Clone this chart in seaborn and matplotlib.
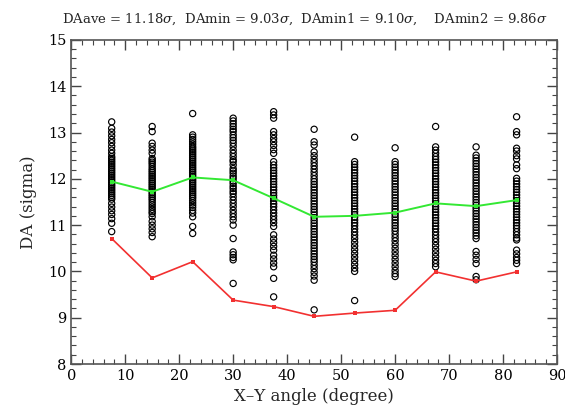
import numpy as np
import pandas as pd
import seaborn as sns
import matplotlib.pyplot as plt
from matplotlib.ticker import MultipleLocator

# X-Y angle bins (degree)
angles = [7.5, 15, 22.5, 30, 37.5, 45, 52.5, 60, 67.5, 75, 82.5]

# average and minimum DA per angle
da_ave = [11.94, 11.72, 12.03, 11.97, 11.58, 11.18, 11.20, 11.27, 11.47, 11.41, 11.54]
da_min = [10.71, 9.86, 10.21, 9.38, 9.24, 9.03, 9.10, 9.16, 9.99, 9.79, 9.99]

# individual DA values per angle
col7_5 = [13.23, 13.09, 13.01, 12.93, 12.85, 12.78, 12.70, 12.62, 12.55, 12.48, 12.44, 12.40,
          12.36, 12.32, 12.28, 12.24, 12.20, 12.16, 12.12, 12.08, 12.04, 12.00, 11.96, 11.92,
          11.88, 11.84, 11.80, 11.76, 11.72, 11.68, 11.64, 11.60, 11.56, 11.47, 11.39, 11.31,
          11.23, 11.14, 11.04, 10.86]
col15 = [13.13, 13.02, 12.77, 12.70, 12.62, 12.55, 12.44, 12.40, 12.36, 12.32, 12.27, 12.22,
         12.18, 12.14, 12.10, 12.06, 12.02, 11.98, 11.94, 11.90, 11.86, 11.82, 11.78, 11.74,
         11.70, 11.66, 11.62, 11.58, 11.54, 11.49, 11.44, 11.39, 11.34, 11.29, 11.25, 11.18,
         11.08, 11.00, 10.92, 10.84, 10.75]
col22_5 = [13.41, 12.95, 12.90, 12.85, 12.80, 12.75, 12.70, 12.66, 12.62, 12.58, 12.54, 12.50,
           12.46, 12.42, 12.38, 12.34, 12.30, 12.26, 12.22, 12.18, 12.14, 12.10, 12.06, 12.02,
           11.98, 11.94, 11.90, 11.86, 11.82, 11.78, 11.74, 11.70, 11.66, 11.62, 11.58, 11.53,
           11.48, 11.43, 11.38, 11.32, 11.26, 11.18, 10.97, 10.82]
col30 = [13.31, 13.25, 13.19, 13.13, 13.07, 13.02, 12.95, 12.89, 12.83, 12.77, 12.70, 12.62,
         12.55, 12.48, 12.41, 12.37, 12.30, 12.22, 12.17, 12.12, 12.06, 12.01, 11.95, 11.90,
         11.84, 11.79, 11.73, 11.68, 11.61, 11.54, 11.47, 11.40, 11.32, 11.25, 11.18, 11.11,
         11.00, 10.71, 10.42, 10.36, 10.30, 10.25, 9.74]
col37_5 = [13.45, 13.38, 13.31, 13.02, 12.95, 12.87, 12.80, 12.72, 12.63, 12.55, 12.37, 12.30,
           12.24, 12.18, 12.12, 12.06, 12.00, 11.94, 11.88, 11.82, 11.76, 11.70, 11.64, 11.58,
           11.52, 11.46, 11.40, 11.33, 11.26, 11.19, 11.12, 11.05, 10.97, 10.79, 10.70, 10.62,
           10.54, 10.46, 10.35, 10.27, 10.18, 10.10, 9.85, 9.45]
col45 = [13.07, 12.80, 12.73, 12.58, 12.50, 12.42, 12.35, 12.28, 12.21, 12.14, 12.07, 12.00,
         11.94, 11.88, 11.82, 11.76, 11.70, 11.64, 11.58, 11.52, 11.46, 11.40, 11.34, 11.28,
         11.22, 11.16, 11.10, 11.04, 10.98, 10.92, 10.86, 10.80, 10.74, 10.68, 10.62, 10.56,
         10.50, 10.44, 10.38, 10.32, 10.26, 10.20, 10.13, 10.06, 9.98, 9.90, 9.81, 9.17]
col52_5 = [12.90, 12.37, 12.31, 12.25, 12.19, 12.13, 12.07, 12.01, 11.95, 11.89, 11.83, 11.77,
           11.71, 11.65, 11.59, 11.53, 11.47, 11.41, 11.35, 11.29, 11.23, 11.17, 11.11, 11.05,
           10.99, 10.92, 10.85, 10.78, 10.71, 10.63, 10.55, 10.47, 10.39, 10.31, 10.23, 10.15,
           10.07, 10.00, 9.37]
col60 = [12.67, 12.37, 12.31, 12.25, 12.19, 12.13, 12.07, 12.01, 11.95, 11.89, 11.83, 11.77,
         11.71, 11.65, 11.59, 11.53, 11.47, 11.41, 11.35, 11.29, 11.23, 11.17, 11.11, 11.05,
         10.99, 10.93, 10.87, 10.80, 10.73, 10.66, 10.58, 10.50, 10.42, 10.34, 10.26, 10.18,
         10.10, 10.02, 9.95, 9.89]
col67_5 = [13.13, 12.69, 12.62, 12.55, 12.48, 12.42, 12.36, 12.30, 12.24, 12.18, 12.12, 12.06,
           12.00, 11.94, 11.88, 11.82, 11.76, 11.70, 11.64, 11.58, 11.52, 11.46, 11.40, 11.34,
           11.28, 11.22, 11.16, 11.10, 11.04, 10.98, 10.92, 10.85, 10.78, 10.71, 10.64, 10.56,
           10.48, 10.40, 10.32, 10.24, 10.17, 10.10]
col75 = [12.69, 12.51, 12.45, 12.39, 12.33, 12.27, 12.21, 12.15, 12.09, 12.03, 11.97, 11.91,
         11.85, 11.79, 11.73, 11.67, 11.61, 11.55, 11.49, 11.43, 11.37, 11.31, 11.25, 11.19,
         11.13, 11.07, 11.01, 10.95, 10.89, 10.83, 10.77, 10.71, 10.43, 10.35, 10.26, 10.17,
         9.89, 9.82]
col82_5 = [13.34, 13.02, 12.95, 12.66, 12.60, 12.50, 12.43, 12.30, 12.22, 12.01, 11.95, 11.89,
           11.83, 11.77, 11.71, 11.65, 11.59, 11.53, 11.47, 11.41, 11.35, 11.29, 11.23, 11.17,
           11.11, 11.05, 10.99, 10.93, 10.86, 10.79, 10.72, 10.68, 10.46, 10.38, 10.30, 10.24,
           10.17]

columns = [col7_5, col15, col22_5, col30, col37_5, col45, col52_5, col60, col67_5, col75, col82_5]

rows = []
for a, col in zip(angles, columns):
    for v in col:
        rows.append({'angle': a, 'DA': v})
df = pd.DataFrame(rows)

sns.set_style("ticks")
plt.rcParams['font.family'] = ['DejaVu Serif']
plt.rcParams['mathtext.fontset'] = 'dejavuserif'

fig = plt.figure(figsize=(5.65, 4.16), dpi=100)
ax = fig.add_axes([0.126, 0.125, 0.86, 0.779])

sns.scatterplot(data=df, x='angle', y='DA', marker='o', s=20,
                facecolor='none', edgecolor='black', linewidth=0.85, ax=ax, zorder=2)
sns.lineplot(x=angles, y=da_ave, color='#33e833', marker='s', markersize=3.5,
             markeredgewidth=0, linewidth=1.4, ax=ax, zorder=3)
sns.lineplot(x=angles, y=da_min, color='#f23030', marker='s', markersize=3.5,
             markeredgewidth=0, linewidth=1.2, ax=ax, zorder=3)

ax.set_xlim(0, 90)
ax.set_ylim(8, 15)
ax.xaxis.set_major_locator(MultipleLocator(10))
ax.xaxis.set_minor_locator(MultipleLocator(2))
ax.yaxis.set_major_locator(MultipleLocator(1))
ax.yaxis.set_minor_locator(MultipleLocator(0.2))
ax.tick_params(which='both', direction='in', top=True, right=True, colors='#444444',
               labelcolor='black', labelsize=10.5)
ax.tick_params(which='major', length=7, width=1)
ax.tick_params(which='minor', length=3.5, width=0.8)
for sp in ax.spines.values():
    sp.set_color('#555555')
    sp.set_linewidth(1.2)

ax.set_xlabel('X\u2013Y angle (degree)', fontsize=12, labelpad=4)
ax.set_ylabel('DA (sigma)', fontsize=12, labelpad=8)

fig.text(0.11, 0.935, 'DAave = 11.18$\\sigma$,  DAmin = 9.03$\\sigma$,  DAmin1 = 9.10$\\sigma$,    DAmin2 = 9.86$\\sigma$',
         fontsize=9.5, ha='left', va='bottom')

fig.savefig('out.png', dpi=100)
